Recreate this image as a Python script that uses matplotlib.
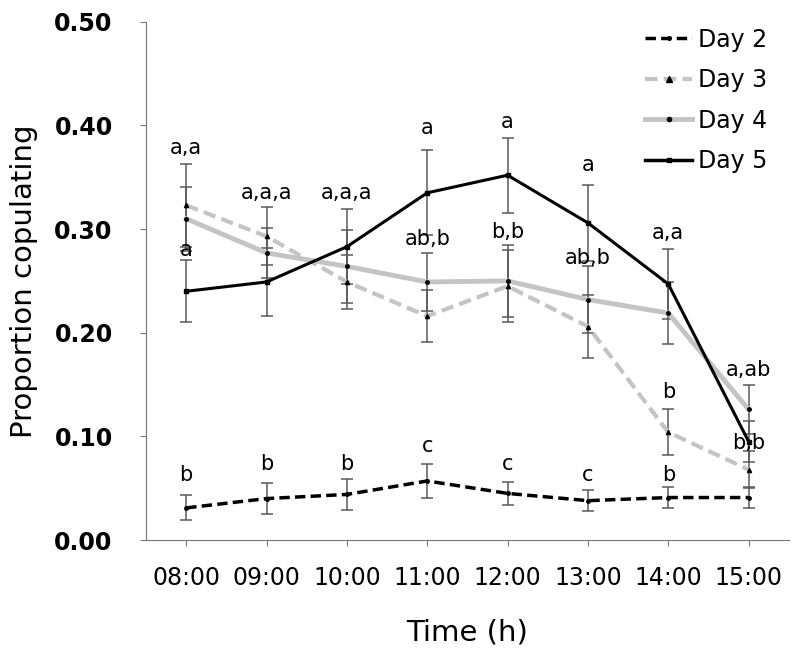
import numpy as np
import matplotlib
matplotlib.use("Agg")
import matplotlib.pyplot as plt
from matplotlib.lines import Line2D

plt.rcParams["font.family"] = ["DejaVu Sans"]

# Data
times = ["08:00", "09:00", "10:00", "11:00", "12:00", "13:00", "14:00", "15:00"]

day2 = [0.031, 0.040, 0.044, 0.057, 0.045, 0.038, 0.041, 0.041]
day2_err = [0.012, 0.015, 0.015, 0.016, 0.011, 0.010, 0.010, 0.010]

day3 = [0.323, 0.293, 0.249, 0.216, 0.245, 0.206, 0.104, 0.068]
day3_err = [0.040, 0.028, 0.026, 0.025, 0.035, 0.030, 0.022, 0.018]

day4 = [0.310, 0.277, 0.264, 0.249, 0.250, 0.232, 0.219, 0.126]
day4_err = [0.031, 0.024, 0.035, 0.028, 0.035, 0.032, 0.030, 0.024]

day5 = [0.240, 0.249, 0.283, 0.335, 0.352, 0.306, 0.247, 0.095]
day5_err = [0.030, 0.033, 0.036, 0.041, 0.036, 0.037, 0.034, 0.020]

# significance letters
letters_day2 = ["b", "b", "b", "c", "c", "c", "b"]
letters_day2_y = [0.063, 0.073, 0.073, 0.091, 0.073, 0.063, 0.063]

# (time index, y, text)
letters_upper = [(0, 0.378, "a,a"), (1, 0.335, "a,a,a"), (2, 0.335, "a,a,a"),
                 (3, 0.398, "a"), (4, 0.403, "a"), (5, 0.362, "a"),
                 (6, 0.296, "a,a"), (7, 0.164, "a,ab")]
letters_lower = [(0, 0.280, "a"), (3, 0.290, "ab,b"), (4, 0.297, "b,b"),
                 (5, 0.272, "ab,b"), (6, 0.143, "b"), (7, 0.094, "b,b")]

x = np.arange(len(times))

fig = plt.figure(figsize=(8, 6.61), dpi=100)
ax = fig.add_axes([0.1825, 0.183, 0.8035, 0.784])

ebar = dict(ecolor="#5a5a5a", elinewidth=1.1, capsize=4, capthick=1.1)
light = "#c4c4c4"

ax.errorbar(x, day2, yerr=day2_err, color="black", ls=(0, (3, 1.5)), lw=2.5,
            marker="o", ms=2.5, **ebar)
ax.errorbar(x, day3, yerr=day3_err, color=light, ls=(0, (3, 1.5)), lw=3,
            marker="^", ms=3, mfc="black", mec="black", **ebar)
ax.errorbar(x, day4, yerr=day4_err, color=light, ls="-", lw=3.5,
            marker="o", ms=2.5, mfc="black", mec="black", **ebar)
ax.errorbar(x, day5, yerr=day5_err, color="black", ls="-", lw=2.2,
            marker="s", ms=2.5, **ebar)

for i, (lab, yy) in enumerate(zip(letters_day2, letters_day2_y)):
    ax.text(x[i], yy, lab, ha="center", va="center", fontsize=15)
for i, yy, lab in letters_upper + letters_lower:
    ax.text(x[i], yy, lab, ha="center", va="center", fontsize=15)

ax.set_xlim(-0.5, 7.5)
ax.set_ylim(0, 0.5)
ax.set_xticks(x)
ax.set_xticklabels(times, fontsize=17)
ax.set_yticks(np.arange(0, 0.51, 0.1))
ax.set_yticklabels(["%.2f" % v for v in np.arange(0, 0.51, 0.1)],
                   fontsize=17, fontweight="bold")
ax.tick_params(axis="both", direction="out", length=4, color="#777777")
ax.tick_params(axis="x", pad=15)
ax.tick_params(axis="y", pad=20)

for side in ["top", "right"]:
    ax.spines[side].set_visible(False)
for side in ["left", "bottom"]:
    ax.spines[side].set_color("#777777")

ax.set_xlabel("Time (h)", fontsize=21, labelpad=20)
ax.set_ylabel("Proportion copulating", fontsize=21, labelpad=12)

handles = [
    Line2D([], [], color="black", ls=(0, (3, 1.5)), lw=2.5, marker="o", ms=2.5),
    Line2D([], [], color=light, ls=(0, (3, 1.5)), lw=3, marker="^", ms=4,
           mfc="black", mec="black"),
    Line2D([], [], color=light, ls="-", lw=3.5, marker="o", ms=3,
           mfc="black", mec="black"),
    Line2D([], [], color="black", ls="-", lw=2.5, marker="s", ms=3),
]
ax.legend(handles, ["Day 2", "Day 3", "Day 4", "Day 5"], loc="upper right",
          frameon=False, fontsize=17, handlelength=2.0, handletextpad=0.25,
          labelspacing=0.7, bbox_to_anchor=(1.0, 1.03))

plt.savefig("out.png", dpi=100)
